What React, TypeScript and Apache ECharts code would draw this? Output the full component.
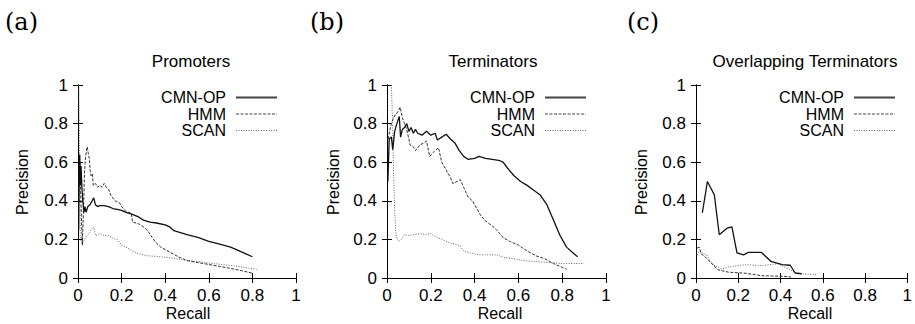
import React, { useEffect, useRef } from "react";
import * as echarts from "echarts";

const tickValues = [0, 0.2, 0.4, 0.6, 0.8, 1];
const seriesNames = ["CMN-OP", "HMM", "SCAN"];
const panelLabels = ["(a)", "(b)", "(c)"];
const panelTitles = ["Promoters", "Terminators", "Overlapping Terminators"];

const promotersCmn = [[0.003,0.25],[0.005,0.55],[0.008,0.64],[0.011,0.48],[0.014,0.58],[0.018,0.47],[0.022,0.4],[0.027,0.34],[0.032,0.37],[0.037,0.34],[0.045,0.37],[0.055,0.38],[0.065,0.4],[0.072,0.415],[0.08,0.38],[0.09,0.37],[0.1,0.375],[0.12,0.375],[0.14,0.37],[0.16,0.36],[0.18,0.355],[0.2,0.35],[0.22,0.34],[0.25,0.33],[0.28,0.315],[0.3,0.3],[0.33,0.29],[0.36,0.285],[0.4,0.275],[0.42,0.265],[0.44,0.245],[0.47,0.235],[0.5,0.225],[0.55,0.21],[0.6,0.19],[0.65,0.175],[0.7,0.16],[0.75,0.135],[0.8,0.11]];
const promotersHmm = [[0.004,0.4],[0.008,0.6],[0.012,0.45],[0.016,0.3],[0.02,0.17],[0.025,0.35],[0.03,0.55],[0.035,0.63],[0.042,0.68],[0.048,0.64],[0.052,0.62],[0.056,0.55],[0.06,0.53],[0.066,0.54],[0.07,0.48],[0.08,0.49],[0.09,0.47],[0.1,0.48],[0.11,0.47],[0.12,0.49],[0.13,0.47],[0.14,0.46],[0.15,0.43],[0.17,0.4],[0.19,0.39],[0.2,0.37],[0.22,0.345],[0.245,0.335],[0.25,0.29],[0.28,0.28],[0.3,0.265],[0.32,0.245],[0.34,0.21],[0.36,0.18],[0.38,0.16],[0.42,0.135],[0.46,0.11],[0.5,0.09],[0.55,0.08],[0.6,0.07],[0.65,0.06],[0.7,0.05],[0.75,0.038],[0.8,0.025]];
const promotersScan = [[0.004,1.0],[0.007,0.6],[0.01,0.22],[0.015,0.19],[0.02,0.175],[0.03,0.2],[0.04,0.215],[0.05,0.23],[0.06,0.25],[0.072,0.265],[0.08,0.22],[0.09,0.225],[0.1,0.23],[0.12,0.22],[0.14,0.22],[0.16,0.205],[0.18,0.2],[0.2,0.17],[0.22,0.16],[0.25,0.14],[0.28,0.125],[0.32,0.115],[0.36,0.112],[0.42,0.105],[0.48,0.095],[0.55,0.085],[0.62,0.075],[0.7,0.065],[0.76,0.055],[0.82,0.045]];

const terminatorsCmn = [[0.004,0.5],[0.01,0.72],[0.02,0.73],[0.026,0.665],[0.035,0.76],[0.045,0.8],[0.056,0.837],[0.062,0.73],[0.07,0.77],[0.08,0.78],[0.09,0.8],[0.1,0.76],[0.11,0.78],[0.12,0.75],[0.13,0.77],[0.14,0.75],[0.16,0.74],[0.18,0.76],[0.2,0.74],[0.22,0.75],[0.23,0.715],[0.25,0.73],[0.27,0.745],[0.29,0.72],[0.31,0.7],[0.33,0.66],[0.35,0.63],[0.37,0.615],[0.4,0.62],[0.42,0.63],[0.45,0.62],[0.48,0.615],[0.51,0.61],[0.53,0.6],[0.55,0.57],[0.58,0.53],[0.61,0.5],[0.64,0.48],[0.67,0.455],[0.7,0.43],[0.73,0.38],[0.76,0.3],[0.79,0.22],[0.82,0.16],[0.85,0.13],[0.87,0.11]];
const terminatorsHmm = [[0.005,0.72],[0.012,0.76],[0.02,0.8],[0.03,0.83],[0.04,0.85],[0.05,0.86],[0.06,0.885],[0.07,0.83],[0.08,0.8],[0.09,0.77],[0.1,0.72],[0.105,0.69],[0.12,0.68],[0.13,0.66],[0.15,0.69],[0.17,0.7],[0.18,0.71],[0.195,0.63],[0.21,0.65],[0.235,0.675],[0.25,0.6],[0.27,0.56],[0.29,0.52],[0.3,0.49],[0.32,0.5],[0.335,0.51],[0.35,0.47],[0.37,0.42],[0.39,0.4],[0.41,0.36],[0.43,0.32],[0.455,0.29],[0.48,0.27],[0.5,0.25],[0.53,0.21],[0.56,0.19],[0.6,0.17],[0.64,0.14],[0.68,0.115],[0.72,0.1],[0.76,0.075],[0.8,0.055],[0.82,0.045]];
const terminatorsScan = [[0.02,1.0],[0.025,0.82],[0.03,0.55],[0.035,0.35],[0.04,0.24],[0.045,0.2],[0.055,0.19],[0.065,0.2],[0.08,0.225],[0.1,0.22],[0.12,0.225],[0.15,0.23],[0.18,0.225],[0.2,0.23],[0.22,0.215],[0.25,0.2],[0.28,0.185],[0.31,0.175],[0.33,0.17],[0.35,0.14],[0.38,0.13],[0.42,0.12],[0.46,0.12],[0.5,0.12],[0.54,0.105],[0.58,0.1],[0.62,0.09],[0.68,0.085],[0.74,0.08],[0.8,0.075],[0.85,0.075],[0.9,0.075]];

const overlapCmn = [[0.03,0.337],[0.054,0.5],[0.087,0.43],[0.11,0.224],[0.148,0.259],[0.17,0.265],[0.194,0.13],[0.225,0.12],[0.248,0.133],[0.309,0.133],[0.355,0.086],[0.408,0.069],[0.446,0.066],[0.469,0.026],[0.5,0.022]];
const overlapHmm = [[0.006,0.155],[0.015,0.16],[0.025,0.125],[0.041,0.112],[0.072,0.078],[0.102,0.043],[0.155,0.03],[0.233,0.025],[0.31,0.012],[0.43,0.008],[0.45,0.005]];
const overlapScan = [[0.006,0.12],[0.015,0.138],[0.05,0.12],[0.08,0.069],[0.12,0.047],[0.168,0.06],[0.233,0.069],[0.31,0.064],[0.385,0.074],[0.446,0.043],[0.477,0.023],[0.569,0.017]];

const panelData = [
  [promotersCmn, promotersHmm, promotersScan],
  [terminatorsCmn, terminatorsHmm, terminatorsScan],
  [overlapCmn, overlapHmm, overlapScan],
];

const FONT = "'Liberation Sans', Arial, Helvetica, sans-serif";

const gridLeft = [78, 387, 696];
const gridWidth = [218, 219, 218];
const gridTop = 85;
const gridHeight = 193;
const legendRight = [637, 328, 19];
const titleX = [191, 493, 805];
const labelX = [5, 310, 627];
const yNameX = [22, 333, 641];
const xNameX = [188, 500, 810];

const lineStyles = [
  { color: "#111", width: 1.3, type: "solid" },
  { color: "#333", width: 1, type: [3, 1.5] },
  { color: "#666", width: 1, type: [1, 1.5] },
];
const legendLineStyles = [
  { color: "#444", width: 2, type: "solid" },
  { color: "#444", width: 1, type: [3, 1.5] },
  { color: "#666", width: 1, type: [1, 1.5] },
];

export default function App() {
  const ref = useRef<HTMLDivElement>(null);
  useEffect(() => {
    if (!ref.current) return;
    const chart = echarts.init(ref.current, null, { renderer: "svg" });
    const grids: any[] = [];
    const xAxes: any[] = [];
    const yAxes: any[] = [];
    const series: any[] = [];
    const legends: any[] = [];
    const graphics: any[] = [];
    const axisLine = { show: true, lineStyle: { color: "#000", width: 1 } };
    const axisTick = { show: true, inside: true, length: 5, lineStyle: { color: "#000", width: 1 } };
    const labelStyle = { color: "#000", fontSize: 17, fontFamily: FONT };
    const fmt = (v: number) => String(+v.toFixed(1));
    for (let i = 0; i < 3; i++) {
      grids.push({ left: gridLeft[i], top: gridTop, width: gridWidth[i], height: gridHeight });
      const base = { type: "value", min: 0, max: 1, interval: 0.2, gridIndex: i, splitLine: { show: false }, axisLine, axisTick };
      xAxes.push({ ...base, position: "bottom", axisLabel: { ...labelStyle, margin: 9, formatter: fmt } });
      xAxes.push({ ...base, position: "top", axisLabel: { show: false } });
      yAxes.push({ ...base, position: "left", axisLabel: { ...labelStyle, margin: 10, formatter: fmt } });
      yAxes.push({ ...base, position: "right", axisLabel: { show: false } });
      for (let s = 0; s < 3; s++) {
        series.push({
          type: "line",
          name: seriesNames[s],
          xAxisIndex: 2 * i,
          yAxisIndex: 2 * i,
          data: panelData[i][s],
          symbol: "none",
          lineStyle: lineStyles[s],
          itemStyle: { color: lineStyles[s].color },
          z: 3 - s,
        });
      }
      legends.push({
        data: seriesNames.map((n, s) => ({ name: n, lineStyle: legendLineStyles[s] })),
        orient: "vertical",
        align: "right",
        right: legendRight[i],
        top: 89.5,
        itemWidth: 41,
        itemHeight: 10,
        itemGap: 0.5,
        padding: 0,
        selectedMode: false,
        itemStyle: { opacity: 0 },
        formatter: (name: string) => `{t|${name}}`,
        textStyle: {
          color: "#000", fontSize: 16, fontFamily: FONT, lineHeight: 15,
          rich: { t: { color: "#000", fontSize: 16, fontFamily: FONT, lineHeight: 15, padding: [0, 5, 0, 0] } },
        },
      });
      graphics.push({
        type: "text", x: labelX[i], y: 22,
        style: { text: panelLabels[i], font: "24px 'DejaVu Serif', 'Liberation Serif', serif", fill: "#000", textVerticalAlign: "middle" },
      });
      graphics.push({
        type: "text", x: titleX[i], y: 61,
        style: { text: panelTitles[i], font: `17px ${FONT}`, fill: "#000", textAlign: "center", textVerticalAlign: "middle" },
      });
      graphics.push({
        type: "text", x: yNameX[i], y: 182, rotation: Math.PI / 2,
        style: { text: "Precision", font: `16px ${FONT}`, fill: "#000", textAlign: "center", textVerticalAlign: "middle" },
      });
      graphics.push({
        type: "text", x: xNameX[i], y: 313,
        style: { text: "Recall", font: `16px ${FONT}`, fill: "#000", textAlign: "center", textVerticalAlign: "middle" },
      });
    }
    chart.setOption({
      animation: false,
      backgroundColor: "#fff",
      grid: grids,
      xAxis: xAxes,
      yAxis: yAxes,
      legend: legends,
      series,
      graphic: graphics,
    });
    return () => chart.dispose();
  }, []);
  return <div ref={ref} style={{ position: "fixed", left: 0, top: 0, width: 915, height: 324 }} />;
}
